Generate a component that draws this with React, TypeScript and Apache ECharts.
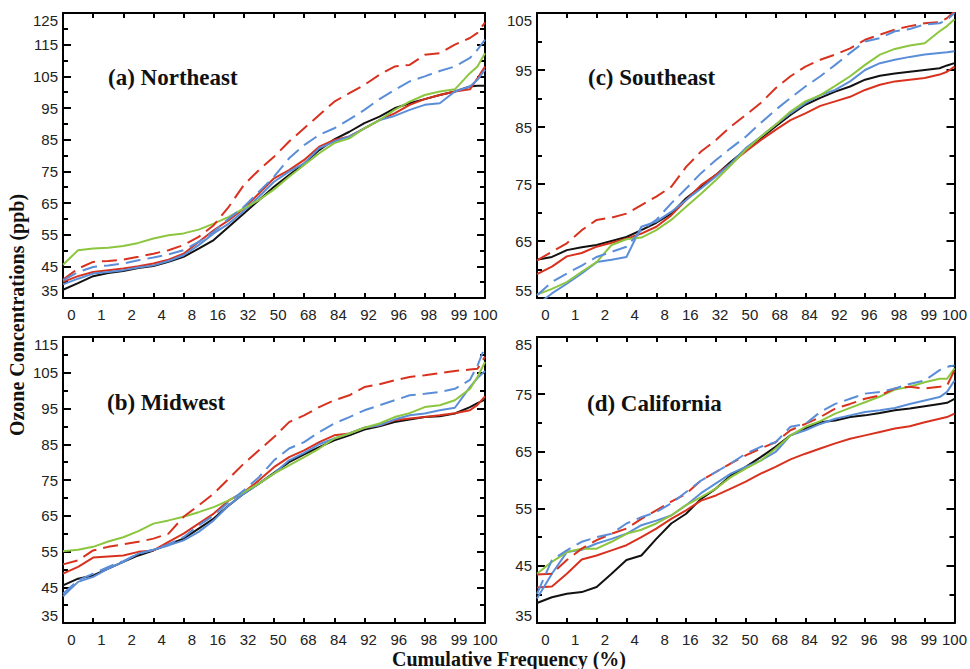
import React, { useEffect, useRef } from "react";
import * as echarts from "echarts";

// Shared x positions (index on the probability-scaled axis: 0 => "0", 14 => "100")
const X = [0, 0.5, 1, 1.5, 2, 2.5, 3, 3.5, 4, 4.5, 5, 5.5, 6, 6.5, 7, 7.5, 8, 8.5, 9, 9.5, 10, 10.5, 11, 11.5, 12, 12.5, 13, 13.5, 13.75, 14];
const X_LABELS = ["0", "1", "2", "4", "8", "16", "32", "50", "68", "84", "92", "96", "98", "99", "100"];

// (a) Northeast
const NE_BLACK = [37.6, 39.7, 41.9, 42.9, 43.5, 44.5, 45.1, 46.4, 48, 50.6, 53.3, 57.5, 61.7, 65.9, 70.1, 73.8, 77.5, 81.7, 85.1, 87.5, 90.2, 92.3, 94.9, 96.5, 97.8, 99.1, 100.2, 101.8, 102, 102];
const NE_RED = [40.1, 41.9, 43.2, 43.8, 44.3, 45, 45.9, 47.1, 49, 52.7, 56.4, 59.6, 63.3, 68, 72.8, 75.4, 78.6, 82.8, 84.9, 86, 88.6, 91.2, 93.3, 96, 97.8, 99.1, 100.2, 100.9, 104.4, 108.1];
const NE_BLUE = [39.3, 41.1, 42.7, 43.2, 43.8, 44.6, 45.3, 46.7, 48.5, 51.7, 55.4, 58.5, 62.5, 67, 71.7, 74.9, 77.5, 82.3, 84.4, 86, 88.6, 91.2, 92.5, 94.4, 96, 96.5, 100.2, 101.8, 103.9, 107.1];
const NE_GREEN = [45.5, 50.1, 50.6, 50.9, 51.4, 52.4, 53.8, 54.8, 55.4, 56.6, 58.5, 60.6, 63.3, 65.9, 69.3, 73.3, 77, 80.7, 83.9, 85.4, 88.6, 91.2, 94.4, 97, 99.1, 100.2, 100.9, 106, 108.1, 112.3];
const NE_RED_D = [40.8, 44.3, 46.4, 46.7, 47.1, 48, 49, 50.1, 51.7, 54.3, 58, 63.8, 70.7, 75.4, 79.6, 84.4, 88.6, 92.8, 97, 99.7, 102.3, 105.5, 108.1, 108.6, 111.8, 112.3, 115, 117.1, 118.7, 122];
const NE_BLUE_D = [40.6, 43.2, 44.8, 45.3, 45.9, 46.9, 47.8, 48.8, 50.1, 52.7, 55.9, 60.1, 63.8, 68.6, 73.3, 79.1, 83.3, 86.5, 88.6, 91.4, 94.4, 97.8, 100.7, 103.4, 105, 106.7, 108.1, 110.8, 113.4, 116.6];

// (c) Southeast
const SE_BLACK = [61.7, 62.2, 63.4, 63.9, 64.3, 65, 65.7, 66.9, 68.2, 69.8, 72.5, 74.5, 76.6, 78.9, 81, 83, 85.1, 87.1, 88.9, 90.1, 91.2, 92.1, 93.3, 94, 94.4, 94.7, 95, 95.3, 95.8, 96.2];
const SE_RED = [59.2, 60.5, 62.3, 62.9, 64, 64.7, 65.4, 66.3, 67.5, 69.5, 72.2, 74.8, 76.6, 78.6, 80.7, 82.7, 84.5, 86.2, 87.4, 88.7, 89.5, 90.3, 91.5, 92.4, 93, 93.3, 93.6, 94.2, 94.7, 95.6];
const SE_BLUE = [53.8, 55.8, 57.5, 59.3, 61.3, 61.7, 62.2, 67.5, 68.4, 70.1, 72.2, 74.2, 76.3, 78.6, 81.3, 83.3, 85.4, 87.4, 89.2, 90.6, 91.5, 93, 95, 96.2, 96.8, 97.3, 97.7, 98, 98.1, 98.3];
const SE_GREEN = [55.6, 56.6, 57.8, 59.6, 61.3, 64.3, 65.3, 65.6, 66.9, 68.7, 71, 73.3, 75.7, 78.3, 81, 83.3, 85.4, 87.7, 89.5, 90.6, 92.2, 93.9, 95.9, 97.7, 98.7, 99.3, 99.7, 101.8, 102.7, 103.9];
const SE_RED_D = [61.6, 63.1, 64.6, 66.9, 68.7, 69.1, 69.8, 71.3, 72.8, 74.5, 78, 80.7, 82.7, 85.1, 87.1, 89.2, 91.8, 93.9, 95.6, 96.8, 97.7, 98.8, 100.3, 101.2, 102.1, 102.7, 103.2, 103.4, 104.1, 105.3];
const SE_BLUE_D = [55.5, 57.8, 59.3, 60.7, 62.2, 63.1, 64, 66.9, 68.7, 71.6, 74.2, 76.9, 79.2, 81.3, 83.3, 85.7, 88, 90.1, 92.1, 93.9, 95.9, 98, 100, 100.6, 101.8, 102.2, 103, 103.2, 103.8, 105];

// (b) Midwest
const MW_BLACK = [45.5, 47.4, 48.3, 50.2, 52.1, 53.9, 55.3, 57, 58.6, 61.4, 64.2, 67.9, 71.2, 74, 77, 80, 82.2, 84.2, 86.1, 87.5, 89.1, 90, 91.2, 91.9, 92.6, 92.8, 93.6, 95.4, 96.5, 97.5];
const MW_RED = [48.8, 50.7, 53.3, 53.6, 53.9, 54.9, 55.3, 57.7, 60, 62.8, 65.6, 69.3, 71.6, 74.9, 78.6, 81.4, 83.3, 85.6, 87.5, 88, 89.6, 90.3, 91.7, 92.2, 92.6, 93.1, 93.7, 94.5, 96, 98.4];
const MW_BLUE = [42.5, 46.5, 47.9, 50.2, 52.1, 54.4, 55.5, 56.7, 58.1, 60.5, 63.7, 67.9, 71.2, 74, 76.8, 80.5, 82.6, 85, 86.6, 88, 89.6, 90.3, 91.9, 93.1, 93.6, 94.5, 95.2, 101, 103.5, 105.5];
const MW_GREEN = [55.1, 55.5, 56.3, 57.8, 59, 60.7, 62.8, 63.7, 64.7, 66, 67.4, 69.3, 71.6, 74, 76.8, 79.1, 81.4, 83.8, 86.6, 88, 89.6, 90.8, 92.6, 93.7, 95.4, 95.9, 97.3, 100.5, 103.8, 108];
const MW_RED_D = [51.4, 52.5, 55.3, 56.3, 57, 57.7, 58.6, 60, 64.7, 67.9, 71.2, 75.4, 79.6, 83.3, 87, 91.2, 93.1, 95.4, 97.3, 98.7, 101, 101.8, 102.9, 103.8, 104.3, 104.9, 105.5, 105.9, 106.1, 109.5];
const MW_BLUE_D = [43.2, 46.9, 48.8, 50.7, 52.3, 54.4, 55.5, 57, 59, 62.3, 65.1, 68.8, 72.1, 75.8, 80.5, 83.8, 85.6, 88.4, 90.8, 92.6, 94.5, 95.9, 97.3, 98.7, 99.1, 99.6, 100.5, 103, 107, 112.2];

// (d) California
const CA_BLACK = [38.5, 39.5, 40.1, 40.4, 41.3, 43.6, 46, 46.8, 49.7, 52.4, 54.1, 56.7, 58.5, 60.8, 62.3, 64, 65.8, 67.8, 69, 70.1, 70.4, 71, 71.3, 71.7, 72.2, 72.5, 72.9, 73.3, 73.5, 74.2];
const CA_RED = [41.2, 41.4, 43.6, 46.1, 46.8, 47.7, 48.6, 50, 51.5, 53.2, 54.7, 56.4, 57.3, 58.5, 59.7, 61.1, 62.3, 63.6, 64.6, 65.5, 66.4, 67.2, 67.8, 68.4, 69, 69.4, 70.1, 70.7, 71, 71.6];
const CA_BLUE = [39.3, 43.6, 47.4, 47.8, 48.9, 49.7, 50.6, 52.1, 52.9, 53.8, 55.6, 57.7, 59.4, 61.1, 62.3, 63.4, 64.9, 67.8, 68.7, 69.8, 70.7, 71.3, 71.9, 72.2, 72.6, 73.3, 73.9, 74.5, 75.4, 77.4];
const CA_GREEN = [43.6, 45.7, 47.4, 48, 48, 49.2, 50.6, 51.3, 52.4, 53.8, 55.6, 57, 58.5, 60.5, 62, 63.4, 65.5, 67.8, 69.3, 70.3, 71.6, 72.6, 73.6, 74.6, 75.8, 76.3, 77.1, 77.7, 77.7, 79.5];
const CA_RED_D = [43.5, 43.6, 46, 48, 49.5, 50.6, 51.5, 53.2, 54.7, 56.2, 57.6, 59.9, 61.4, 62.9, 64.3, 65.5, 66.6, 68.7, 69.8, 71, 72.5, 73.3, 74.2, 74.8, 76, 76.3, 76, 76.3, 76.5, 79.2];
const CA_BLUE_D = [40.1, 46, 47.7, 49.2, 50, 50.6, 52.4, 53.5, 54.4, 55.9, 57.9, 59.9, 61.4, 62.9, 64.6, 65.8, 66.6, 69.3, 69.8, 71.9, 73.3, 74.2, 75.1, 75.4, 76, 76.8, 77.4, 79.2, 79.8, 80];

const PANEL_TITLES = ["(a) Northeast", "(c) Southeast", "(b) Midwest", "(d) California"];
const Y_RANGES = [
  [35, 125],
  [55, 105],
  [35, 115],
  [35, 85],
];

const RED = "#d8321f";
const BLUE = "#5b8ed8";
const GREEN = "#8cc63f";
const BLACK = "#111111";

const PANELS = [
  [NE_BLACK, NE_RED, NE_BLUE, NE_GREEN, NE_RED_D, NE_BLUE_D],
  [SE_BLACK, SE_RED, SE_BLUE, SE_GREEN, SE_RED_D, SE_BLUE_D],
  [MW_BLACK, MW_RED, MW_BLUE, MW_GREEN, MW_RED_D, MW_BLUE_D],
  [CA_BLACK, CA_RED, CA_BLUE, CA_GREEN, CA_RED_D, CA_BLUE_D],
];
const SERIES_STYLE = [
  { color: BLACK, type: "solid" },
  { color: RED, type: "solid" },
  { color: BLUE, type: "solid" },
  { color: GREEN, type: "solid" },
  { color: RED, type: [15, 7] },
  { color: BLUE, type: [15, 7] },
];

const GRIDS = [
  { left: 63, top: 13, width: 422, height: 285 },
  { left: 537, top: 13, width: 422, height: 285 },
  { left: 63, top: 337, width: 422, height: 286 },
  { left: 537, top: 337, width: 422, height: 286 },
];
const TITLE_POS = [
  [108, 77],
  [588, 77],
  [107, 402],
  [587, 403],
];

export default function App() {
  const ref = useRef<HTMLDivElement>(null);

  useEffect(() => {
    if (!ref.current) return;
    const chart = echarts.init(ref.current, null, { renderer: "svg" });

    const axisLine = { show: true, onZero: false, lineStyle: { color: "#000", width: 2 } };
    const xAxes: any[] = [];
    const yAxes: any[] = [];
    const series: any[] = [];

    GRIDS.forEach((g, gi) => {
      xAxes.push({
        type: "value",
        gridIndex: gi,
        position: "bottom",
        min: 0,
        max: 14,
        interval: 1,
        axisLine,
        axisTick: { show: true, inside: true, length: 5, lineStyle: { color: "#000", width: 2 } },
        splitLine: { show: false },
        axisLabel: {
          show: true,
          margin: 9,
          formatter: (v: number) => `{t|${X_LABELS[Math.round(v)] ?? ""}}`,
          rich: {
            t: { width: 25, align: "right", fontSize: 15, fontFamily: "Liberation Sans, Arial, sans-serif", color: "#222" },
          },
        },
      });
      xAxes.push({
        type: "value",
        gridIndex: gi,
        position: "top",
        min: 0,
        max: 14,
        interval: 1,
        axisLine,
        axisTick: { show: true, inside: true, length: 5, lineStyle: { color: "#000", width: 2 } },
        splitLine: { show: false },
        axisLabel: { show: false },
      });
      const [ymin, ymax] = Y_RANGES[gi];
      const yBase = {
        type: "value",
        gridIndex: gi,
        min: ymin,
        max: ymax,
        interval: 10,
        axisLine,
        axisTick: { show: true, inside: true, length: 8, lineStyle: { color: "#000", width: 2 } },
        minorTick: { show: true, splitNumber: 2, length: 5, lineStyle: { color: "#000", width: 2 } },
        splitLine: { show: false },
        minorSplitLine: { show: false },
      };
      yAxes.push({
        ...yBase,
        position: "left",
        axisLabel: {
          show: true,
          margin: 5,
          fontSize: 15,
          fontFamily: "Liberation Sans, Arial, sans-serif",
          color: "#222",
          verticalAlignMinLabel: "bottom",
          verticalAlignMaxLabel: "top",
        },
      });
      yAxes.push({
        ...yBase,
        position: "right",
        axisLabel: { show: false },
      });

      PANELS[gi].forEach((vals, si) => {
        const st = SERIES_STYLE[si];
        series.push({
          type: "line",
          xAxisIndex: gi * 2,
          yAxisIndex: gi * 2,
          data: X.map((x, i) => [x, vals[i]]),
          symbol: "none",
          clip: true,
          lineStyle: { color: st.color, width: 2, type: st.type },
          z: si >= 4 ? 3 : 2,
        });
      });
    });

    const serif = "'Liberation Serif', 'Times New Roman', serif";
    const graphic: any[] = PANEL_TITLES.map((t, i) => ({
      type: "text",
      x: TITLE_POS[i][0],
      y: TITLE_POS[i][1],
      style: { text: t, fill: "#111", font: `bold 23px ${serif}`, textAlign: "left", textVerticalAlign: "middle" },
      z: 10,
    }));
    graphic.push({
      type: "text",
      x: 509,
      y: 659,
      style: { text: "Cumulative Frequency (%)", fill: "#111", font: `bold 20px ${serif}`, textAlign: "center", textVerticalAlign: "middle" },
    });
    graphic.push({
      type: "text",
      x: 17,
      y: 315,
      rotation: Math.PI / 2,
      style: { text: "Ozone Concentrations (ppb)", fill: "#111", font: `bold 20px ${serif}`, textAlign: "center", textVerticalAlign: "middle" },
    });

    chart.setOption({
      animation: false,
      backgroundColor: "#ffffff",
      grid: GRIDS.map((g) => ({ ...g, containLabel: false })),
      xAxis: xAxes,
      yAxis: yAxes,
      series,
      graphic,
    });

    return () => chart.dispose();
  }, []);

  return <div ref={ref} style={{ position: "absolute", left: 0, top: 0, width: 970, height: 669 }} />;
}
